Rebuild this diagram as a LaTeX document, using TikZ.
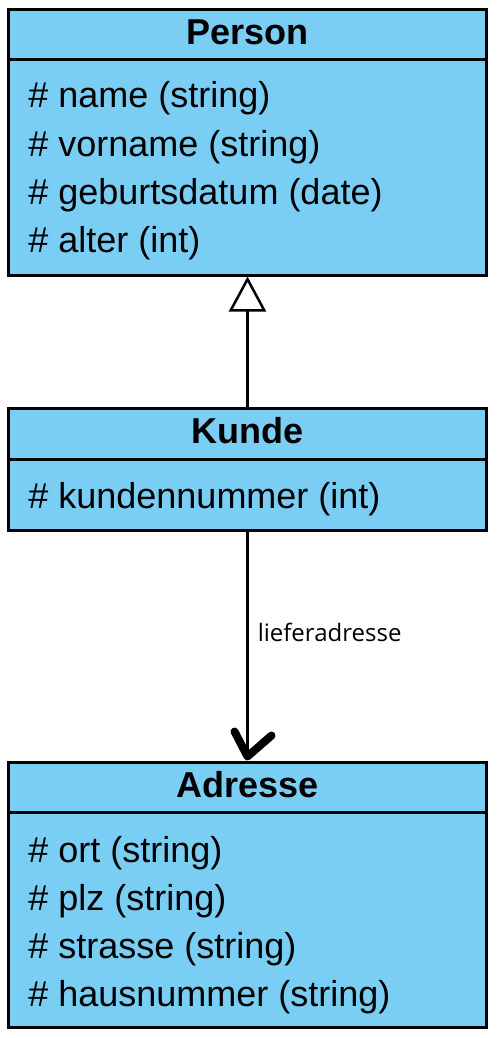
\documentclass[tikz,border=0pt]{standalone}
\usepackage{fontspec}
\setmainfont{Liberation Sans}
\newfontfamily\labelfont{Open Sans}
\usetikzlibrary{arrows.meta}
\definecolor{classblue}{RGB}{122,206,244}

\begin{document}
\begin{tikzpicture}[x=0.5pt,y=-0.5pt,
  classbox/.style={draw,line width=1.5pt,fill=classblue,minimum width=239pt,inner sep=0pt},
  classtitle/.style={anchor=base,inner sep=0pt,font=\fontsize{18}{20}\selectfont\bfseries},
  attr/.style={anchor=base west,inner sep=0pt,font=\fontsize{18}{20}\selectfont},
  divider/.style={line width=1.5pt},
  link/.style={line width=1.25pt},
  assoclabel/.style={inner sep=0pt,font=\labelfont\fontsize{12}{14}\selectfont}]
\useasboundingbox (0,0) rectangle (497,1038);
% classes
\node[classbox,minimum height=132.5pt] (person) at (247.5,142.5) {};
\node[classbox,minimum height=61pt] (kunde) at (247.5,469) {};
\node[classbox,minimum height=132.5pt] (adresse) at (247.5,894.5) {};
\draw[divider] (person.west |- 0,59.5) -- (person.east |- 0,59.5);
\draw[divider] (kunde.west |- 0,459) -- (kunde.east |- 0,459);
\draw[divider] (adresse.west |- 0,812) -- (adresse.east |- 0,812);
% titles
\node[classtitle] (persontitle) at (247.5,45) {Person};
\node[classtitle] (kundetitle) at (247.5,443) {Kunde};
\node[classtitle] (adressetitle) at (247.5,797) {Adresse};
% attributes
\node[attr] (pname) at (28,108) {\# name (string)};
\node[attr] (pvorname) at (28,156) {\# vorname (string)};
\node[attr] (pgeburt) at (28,204) {\# geburtsdatum (date)};
\node[attr] (palter) at (28,252) {\# alter (int)};
\node[attr] (knummer) at (28,508) {\# kundennummer (int)};
\node[attr] (aort) at (28,862) {\# ort (string)};
\node[attr] (aplz) at (28,910) {\# plz (string)};
\node[attr] (astrasse) at (28,958) {\# strasse (string)};
\node[attr] (ahaus) at (28,1006) {\# hausnummer (string)};
% generalization
\draw[link,-{Triangle[open,length=17.5pt,width=18.5pt,line width=1.25pt]}] (kunde.north) -- (person.south);
% association
\coordinate (tip) at ([yshift=2pt]adresse.north);
\draw[link] (kunde.south) -- node[assoclabel,pos=0.45,right=4.5pt] (lieferlabel) {lieferadresse} (tip);
\draw[line width=4pt,line cap=round,line join=round] (tip) ++(-13,-25) -- (tip) -- ++(24,-21);
\end{tikzpicture}
\end{document}
